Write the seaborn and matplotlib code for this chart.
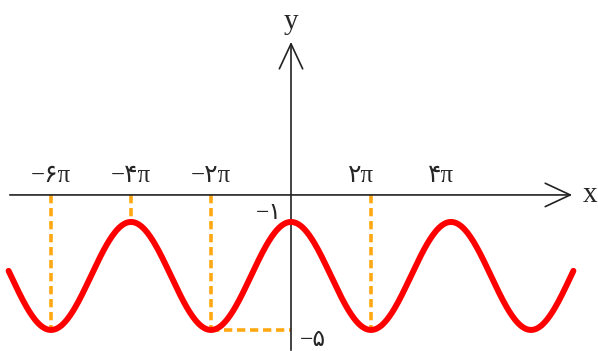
import numpy as np
import pandas as pd
import matplotlib
matplotlib.use("Agg")
import matplotlib.pyplot as plt
import seaborn as sns

sns.set_style("white")
plt.rcParams["font.family"] = ["Liberation Serif", "DejaVu Sans"]

# --- data -------------------------------------------------------------------
# curve: y = offset + amplitude * cos(x / 2)
offset = -3
amplitude = 2
freq = 0.5
x_start_pi, x_end_pi = -7.06, 7.06

x_ticks_pi = [-6, -4, -2, 2, 4]
x_tick_labels = ["\u2212\u06f6\u03c0", "\u2212\u06f4\u03c0", "\u2212\u06f2\u03c0", "\u06f2\u03c0", "\u06f4\u03c0"]
y_ticks = [-1, -5]
y_tick_labels = ["\u2212\u06f1", "\u2212\u06f5"]

# dashed guides from the x axis down to the curve
guide_x_pi = [-6, -4, -2, 2]
guide_y = [-5, -1, -5, -5]
# horizontal guide at the minimum x=-2pi back to the y axis
hguide_x_pi = [-2, 0]
hguide_y = [-5, -5]

# --- build curve ------------------------------------------------------------
xs = np.linspace(x_start_pi * np.pi, x_end_pi * np.pi, 600)
curve = pd.DataFrame({"x": xs, "y": offset + amplitude * np.cos(freq * xs)})

fig = plt.figure(figsize=(5.98, 3.51), dpi=100)
ax = fig.add_axes([0, 0, 1, 1])
ax.set_xlim(-7.275 * np.pi, 7.675 * np.pi)
ax.set_ylim(-5.78, 7.22)
ax.axis("off")

orange = "#FFA812"
dash = (2.3, 1.3)

# guides
for gx, gy in zip(guide_x_pi, guide_y):
    ax.plot([gx * np.pi, gx * np.pi], [0, gy], color=orange, lw=2.6,
            dashes=dash, zorder=1)
ax.plot(np.array(hguide_x_pi) * np.pi, hguide_y, color=orange, lw=2.6,
        dashes=dash, zorder=1)

# axes with open arrow heads
arrow = dict(arrowstyle="->,head_length=0.9,head_width=0.42", lw=1.2,
             color="#222222", mutation_scale=20, shrinkA=0, shrinkB=0)
ax.annotate("", xy=(7.03 * np.pi, 0), xytext=(-7.03 * np.pi, 0), arrowprops=arrow)
ax.annotate("", xy=(0, 5.67), xytext=(0, -5.75), arrowprops=arrow)

# curve
sns.lineplot(data=curve, x="x", y="y", ax=ax, color="#FF0000", lw=4.3,
             sort=False, zorder=3)

# labels
ax.text(7.47 * np.pi, 0, "x", fontsize=21, ha="center", va="center",
        family="Liberation Serif")
ax.text(0, 6.4, "y", fontsize=21, ha="center", va="center",
        family="Liberation Serif")

for xp, lab in zip(x_ticks_pi, x_tick_labels):
    shift = -0.25 if xp > 0 else 0
    ax.text((xp + shift) * np.pi, 0.3, lab, fontsize=18, ha="center",
            va="bottom")

ax.text(-0.22 * np.pi, y_ticks[0] + 0.3, y_tick_labels[0], fontsize=17,
        ha="right", va="center")
ax.text(0.22 * np.pi, y_ticks[1] - 0.38, y_tick_labels[1], fontsize=17,
        ha="left", va="center")

fig.savefig("out.png", dpi=100)
